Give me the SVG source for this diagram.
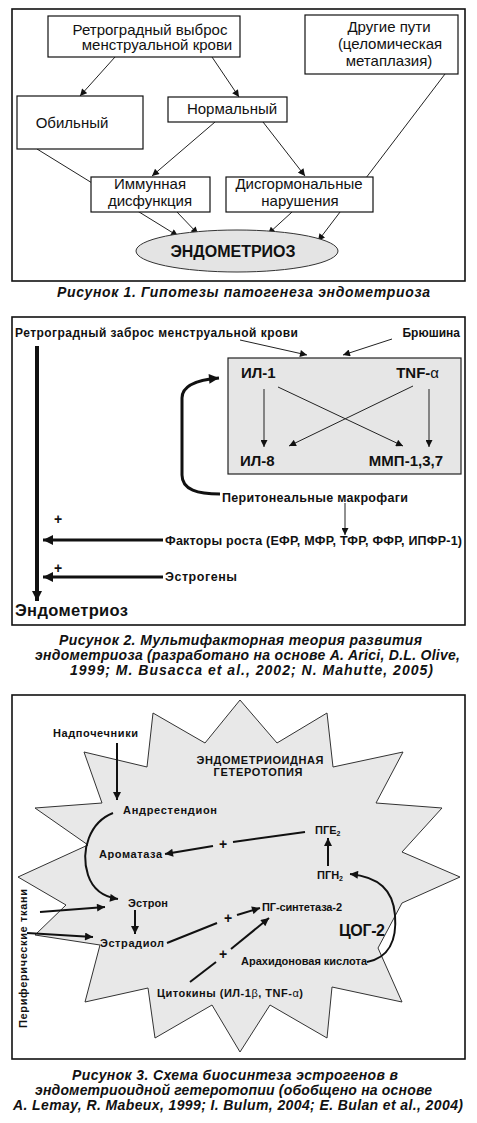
<svg xmlns="http://www.w3.org/2000/svg" width="477" height="1123" viewBox="0 0 477 1123">
<style>
text{font-family:"Liberation Sans",Arial,sans-serif;fill:#111}
.r{font-size:15px}
.b{font-weight:bold}
.cap{font-weight:bold;font-style:italic;font-size:14px}
.frame{fill:#fff;stroke:#111;stroke-width:1.6}
.box{fill:#fff;stroke:#111;stroke-width:1.2}
.thin{stroke:#222;stroke-width:1;fill:none}
.med{stroke:#111;stroke-width:2;fill:none}
.thick{stroke:#111;stroke-width:3;fill:none}
</style>
<defs>
<marker id="s" viewBox="0 0 10 10" refX="10" refY="5" markerWidth="8" markerHeight="7" markerUnits="userSpaceOnUse" orient="auto"><path d="M0,0L10,5L0,10z" fill="#111"/></marker>
<marker id="m" viewBox="0 0 10 10" refX="10" refY="5" markerWidth="10" markerHeight="8" markerUnits="userSpaceOnUse" orient="auto"><path d="M0,0L10,5L0,10z" fill="#111"/></marker>
<marker id="l" viewBox="0 0 10 10" refX="10" refY="5" markerWidth="12" markerHeight="10" markerUnits="userSpaceOnUse" orient="auto"><path d="M0,0L10,5L0,10z" fill="#111"/></marker>
</defs>
<rect width="477" height="1123" fill="#fff"/>

<!-- Figure 1 -->
<rect class="frame" x="12" y="9" width="453" height="272"/>
<g id="fig1-connectors">
<line class="thin" x1="115" y1="57" x2="80" y2="96" marker-end="url(#s)"/>
<line class="thin" x1="212" y1="57" x2="239" y2="97" marker-end="url(#s)"/>
<line class="thin" x1="37" y1="149" x2="178" y2="236" marker-end="url(#s)"/>
<line class="thin" x1="445" y1="74" x2="318" y2="241" marker-end="url(#s)"/>
<line class="thin" x1="215" y1="122" x2="152" y2="176" marker-end="url(#s)"/>
<line class="thin" x1="263" y1="122" x2="305" y2="176" marker-end="url(#s)"/>
<line class="thin" x1="177" y1="212" x2="198" y2="234" marker-end="url(#s)"/>
<line class="thin" x1="292" y1="212" x2="268" y2="234" marker-end="url(#s)"/>
</g>
<g id="n-retro">
<rect class="box" x="48" y="16" width="192" height="41"/>
<text class="r" x="150" y="35" text-anchor="middle">Ретроградный выброс</text>
<text class="r" x="157" y="50" text-anchor="middle">менструальной крови</text>
</g>
<g id="n-other">
<rect class="box" x="305" y="15" width="153" height="59"/>
<text class="r" x="389" y="32" text-anchor="middle">Другие пути</text>
<text class="r" x="390" y="49" text-anchor="middle">(целомическая</text>
<text class="r" x="389" y="66" text-anchor="middle">метаплазия)</text>
</g>
<g id="n-heavy">
<rect class="box" x="17" y="96" width="126" height="53"/>
<text class="r" x="72" y="128" text-anchor="middle">Обильный</text>
</g>
<g id="n-normal">
<rect class="box" x="168" y="97" width="119" height="25"/>
<text class="r" x="232" y="114" text-anchor="middle">Нормальный</text>
</g>
<g id="n-immune">
<rect class="box" x="91" y="177" width="119" height="35"/>
<text class="r" x="150" y="189" text-anchor="middle">Иммунная</text>
<text class="r" x="150" y="206" text-anchor="middle">дисфункция</text>
</g>
<g id="n-hormone">
<rect class="box" x="226" y="177" width="147" height="35"/>
<text class="r" x="299" y="189" text-anchor="middle">Дисгормональные</text>
<text class="r" x="300" y="206" text-anchor="middle">нарушения</text>
</g>
<g id="n-endo1">
<ellipse cx="237" cy="251" rx="101" ry="21" fill="#e4e4e4" stroke="#333" stroke-width="1"/>
<text class="b" x="233" y="257" font-size="16" text-anchor="middle">ЭНДОМЕТРИОЗ</text>
</g>
<text class="cap" x="57" y="297" textLength="373" lengthAdjust="spacing">Рисунок 1. Гипотезы патогенеза эндометриоза</text>

<!-- Figure 2 -->
<rect class="frame" x="12" y="317" width="453" height="308"/>
<g id="n-il-box">
<rect x="228" y="358" width="233" height="116" fill="#e6e6e6" stroke="#222" stroke-width="1.2"/>
</g>
<g id="fig2-connectors">
<line class="thin" x1="240" y1="340" x2="307" y2="355" marker-end="url(#s)"/>
<line class="thin" x1="392" y1="339" x2="343" y2="355" marker-end="url(#s)"/>
<line class="thin" x1="264" y1="389" x2="264" y2="447" marker-end="url(#s)"/>
<line class="thin" x1="429" y1="389" x2="429" y2="447" marker-end="url(#s)"/>
<line class="thin" x1="278" y1="387" x2="403" y2="446" marker-end="url(#s)"/>
<line class="thin" x1="413" y1="386" x2="289" y2="446" marker-end="url(#s)"/>
<line class="thin" x1="345" y1="503" x2="345" y2="535" marker-end="url(#s)"/>
<path class="thick" d="M220,494 C198,494 182,490 182,475 L182,398 C182,386 196,380 219,378" marker-end="url(#l)"/>
<line x1="37" y1="346" x2="37" y2="601" stroke="#111" stroke-width="4" marker-end="url(#l)"/>
<line class="thick" x1="163" y1="540" x2="43" y2="540" marker-end="url(#l)"/>
<line class="thick" x1="163" y1="577" x2="43" y2="577" marker-end="url(#l)"/>
</g>
<g id="n-retro2"><text class="b" x="15" y="337" font-size="12" textLength="283" lengthAdjust="spacing">Ретроградный заброс менструальной крови</text></g>
<g id="n-peritoneum"><text class="b" x="460" y="337" font-size="12" text-anchor="end">Брюшина</text></g>
<g id="n-il1"><text class="b" x="241" y="378" font-size="15">ИЛ-1</text></g>
<g id="n-tnf"><text class="b" x="439" y="378" font-size="15" text-anchor="end">TNF-<tspan font-weight="normal">α</tspan></text></g>
<g id="n-il8"><text class="b" x="240" y="466" font-size="15">ИЛ-8</text></g>
<g id="n-mmp"><text class="b" x="443" y="466" font-size="15" text-anchor="end">ММП-1,3,7</text></g>
<g id="n-macro"><text class="b" x="222" y="502" font-size="12.5" textLength="186" lengthAdjust="spacing">Перитонеальные макрофаги</text></g>
<g id="n-growth"><text class="b" x="165" y="545" font-size="12.5" textLength="297" lengthAdjust="spacing">Факторы роста (ЕФР, МФР, ТФР, ФФР, ИПФР-1)</text></g>
<g id="n-estr"><text class="b" x="165" y="581" font-size="12.5" textLength="72" lengthAdjust="spacing">Эстрогены</text></g>
<text class="b" x="58" y="524" font-size="14" text-anchor="middle">+</text>
<text class="b" x="58" y="573" font-size="14" text-anchor="middle">+</text>
<g id="n-endo2"><text class="b" x="15" y="616" font-size="16.5" textLength="113" lengthAdjust="spacing">Эндометриоз</text></g>
<text class="cap" x="59" y="645" textLength="363" lengthAdjust="spacing">Рисунок 2. Мультифакторная теория развития</text>
<text class="cap" x="35" y="660" textLength="425" lengthAdjust="spacing">эндометриоза (разработано на основе A. Arici, D.L. Olive,</text>
<text class="cap" x="70" y="675" textLength="363" lengthAdjust="spacing">1999; M. Busacca et al., 2002; N. Mahutte, 2005)</text>

<!-- Figure 3 -->
<rect class="frame" x="12" y="695" width="453" height="364"/>
<g id="n-hetero">
<polygon points="240,700 277,743 327,713 333,767 403,752 376,803 442,808 402,852 460,877 402,903 378,948 402,1002 332,987 327,1038 270,1005 240,1052 212,1005 155,1038 148,988 85,1002 100,945 35,935 66,905 18,877 88,845 35,808 102,803 84,752 147,767 153,713 205,743" fill="#e8e8e8" stroke="#333" stroke-width="1"/>
<text class="b" x="260" y="764" font-size="11" text-anchor="middle" textLength="127" lengthAdjust="spacing">ЭНДОМЕТРИОИДНАЯ</text>
<text class="b" x="258" y="776" font-size="11" text-anchor="middle" textLength="89" lengthAdjust="spacing">ГЕТЕРОТОПИЯ</text>
</g>
<g id="fig3-connectors">
<line class="med" x1="117" y1="743" x2="117" y2="800" marker-end="url(#m)"/>
<path class="med" d="M113,813 C90,822 80,850 88,875 C93,890 104,897 118,899" marker-end="url(#m)"/>
<line class="med" x1="305" y1="832" x2="233" y2="842"/>
<line class="med" x1="213" y1="846" x2="165" y2="854" marker-end="url(#m)"/>
<line class="med" x1="328" y1="866" x2="328" y2="838" marker-end="url(#m)"/>
<line class="med" x1="135" y1="910" x2="135" y2="934" marker-end="url(#m)"/>
<line class="med" x1="167" y1="943" x2="217" y2="923"/>
<line class="med" x1="237" y1="915" x2="260" y2="908" marker-end="url(#m)"/>
<line class="med" x1="40" y1="912" x2="105" y2="907" marker-end="url(#m)"/>
<line class="med" x1="27" y1="933" x2="93" y2="937" marker-end="url(#m)"/>
<line class="med" x1="190" y1="982" x2="216" y2="962"/>
<line class="med" x1="231" y1="949" x2="269" y2="918" marker-end="url(#m)"/>
<path class="med" d="M367,962 C389,958 397,940 395,915 C393,890 379,877 350,874" marker-end="url(#m)"/>
</g>
<text class="b" x="223" y="849" font-size="14" text-anchor="middle">+</text>
<text class="b" x="228" y="923" font-size="14" text-anchor="middle">+</text>
<text class="b" x="223" y="959" font-size="14" text-anchor="middle">+</text>
<g id="n-adrenal"><text class="b" x="53" y="737" font-size="11" textLength="85" lengthAdjust="spacing">Надпочечники</text></g>
<g id="n-andro"><text class="b" x="123" y="814" font-size="11" textLength="94" lengthAdjust="spacing">Андрестендион</text></g>
<g id="n-pge2"><text class="b" x="315" y="834" font-size="11">ПГЕ<tspan font-size="7" dy="2">2</tspan></text></g>
<g id="n-aromatase"><text class="b" x="99" y="858" font-size="11" textLength="63" lengthAdjust="spacing">Ароматаза</text></g>
<g id="n-pgh2"><text class="b" x="317" y="879" font-size="11">ПГН<tspan font-size="7" dy="2">2</tspan></text></g>
<g id="n-estrone"><text class="b" x="128" y="907" font-size="11" textLength="40" lengthAdjust="spacing">Эстрон</text></g>
<g id="n-pgs"><text class="b" x="262" y="911" font-size="11" textLength="80" lengthAdjust="spacing">ПГ-синтетаза-2</text></g>
<g id="n-cox"><text class="b" x="339" y="936" font-size="16" textLength="46" lengthAdjust="spacing">ЦОГ-2</text></g>
<g id="n-estradiol"><text class="b" x="100" y="947" font-size="11" textLength="64" lengthAdjust="spacing">Эстрадиол</text></g>
<g id="n-arach"><text class="b" x="241" y="965" font-size="11" textLength="126" lengthAdjust="spacing">Арахидоновая кислота</text></g>
<g id="n-cyto"><text class="b" x="157" y="997" font-size="11" textLength="146" lengthAdjust="spacing">Цитокины (ИЛ-1<tspan font-weight="normal">β</tspan>, TNF-<tspan font-weight="normal">α</tspan>)</text></g>
<g id="n-periph"><text class="b" font-size="11" transform="translate(27,1028) rotate(-90)" textLength="139" lengthAdjust="spacing">Периферические ткани</text></g>
<text class="cap" x="72" y="1080" textLength="326" lengthAdjust="spacing">Рисунок 3. Схема биосинтеза эстрогенов в</text>
<text class="cap" x="35" y="1095" textLength="397" lengthAdjust="spacing">эндометриоидной гетеротопии (обобщено на основе</text>
<text class="cap" x="13" y="1110" textLength="450" lengthAdjust="spacing">A. Lemay, R. Mabeux, 1999; I. Bulum, 2004; E. Bulan et al., 2004)</text>
</svg>
